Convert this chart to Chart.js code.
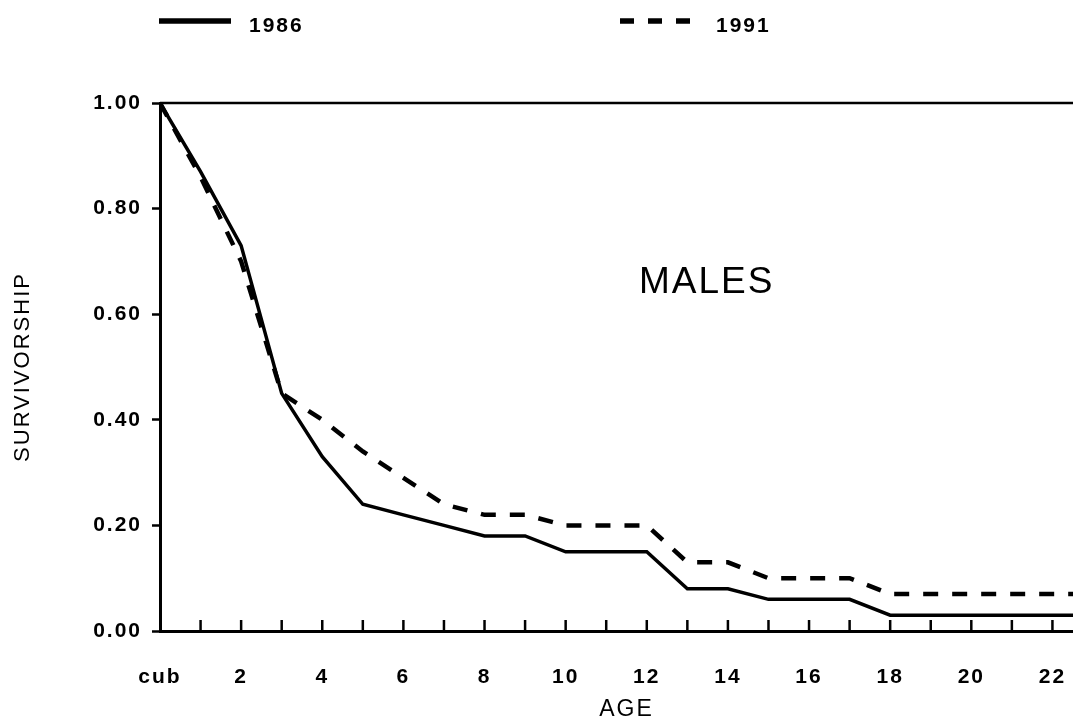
<!DOCTYPE html>
<html>
<head>
<meta charset="utf-8">
<script src="https://cdn.jsdelivr.net/npm/chart.js@4/dist/chart.umd.min.js"></script>
<style>
    html, body { margin: 0; padding: 0; background: #fff; overflow: hidden; }
    #wrap { width: 1073px; height: 725px; overflow: hidden; }
</style>
</head>
<body>
<div id="wrap"><canvas id="chart" width="1110" height="725"></canvas></div>
<script>
// Data
const ages = [0, 1, 2, 3, 4, 5, 6, 7, 8, 9, 10, 11, 12, 13, 14, 15, 16, 17, 18, 19, 20, 21, 22, 23];
const surv1986 = [1.00, 0.87, 0.73, 0.45, 0.33, 0.24, 0.22, 0.20, 0.18, 0.18, 0.15, 0.15, 0.15, 0.08, 0.08, 0.06, 0.06, 0.06, 0.03, 0.03, 0.03, 0.03, 0.03, 0.03];
const surv1991 = [1.00, 0.86, 0.70, 0.45, 0.40, 0.34, 0.29, 0.24, 0.22, 0.22, 0.20, 0.20, 0.20, 0.13, 0.13, 0.10, 0.10, 0.10, 0.07, 0.07, 0.07, 0.07, 0.07, 0.07];
const yTicks = [0, 0.2, 0.4, 0.6, 0.8, 1.0];
const seriesNames = ['1986', '1991'];
const panelLabel = 'MALES';

const FONT = '"Liberation Sans", Arial, Helvetica, sans-serif';

const toPoints = vals => ages.map((a, i) => ({ x: a, y: vals[i] }));

// Letter spacing for the wide, tracked lettering of the original
const spacing = {
    id: 'spacing',
    beforeUpdate(chart) { chart.ctx.letterSpacing = '2px'; },
    beforeDraw(chart) { chart.ctx.letterSpacing = '2px'; },
    beforeDatasetsDraw(chart) { chart.ctx.letterSpacing = '2px'; }
};

// Frame, inward x ticks, legend and panel label
const decor = {
    id: 'decor',
    afterDraw(chart) {
        const { ctx, chartArea, scales } = chart;
        const x = scales.x;
        ctx.save();
        ctx.strokeStyle = '#000';
        ctx.lineCap = 'butt';

        // top border
        ctx.lineWidth = 2.5;
        ctx.beginPath();
        ctx.moveTo(chartArea.left, chartArea.top);
        ctx.lineTo(chartArea.right, chartArea.top);
        ctx.stroke();

        // inward ticks on x axis
        ctx.lineWidth = 2.5;
        ages.forEach(a => {
            if (a === 0) return;
            const px = x.getPixelForValue(a);
            ctx.beginPath();
            ctx.moveTo(px, chartArea.bottom);
            ctx.lineTo(px, chartArea.bottom - 11);
            ctx.stroke();
        });

        // legend
        ctx.fillStyle = '#000';
        ctx.font = 'bold 21px ' + FONT;
        ctx.letterSpacing = '2px';
        ctx.textBaseline = 'middle';
        ctx.lineWidth = 5.5;
        ctx.setLineDash([]);
        ctx.beginPath();
        ctx.moveTo(159, 21);
        ctx.lineTo(231, 21);
        ctx.stroke();
        ctx.fillText(seriesNames[0], 249, 26);

        ctx.setLineDash([14, 14]);
        ctx.beginPath();
        ctx.moveTo(620, 21);
        ctx.lineTo(694, 21);
        ctx.stroke();
        ctx.setLineDash([]);
        ctx.fillText(seriesNames[1], 716, 26);

        // panel label
        ctx.font = '37px ' + FONT;
        ctx.letterSpacing = '2px';
        ctx.fillText(panelLabel, 639, 283);
        ctx.restore();
    }
};

const ctx = document.getElementById('chart').getContext('2d');

new Chart(ctx, {
    type: 'line',
    data: {
        datasets: [
            {
                label: seriesNames[1],
                data: toPoints(surv1991),
                borderColor: '#000',
                borderWidth: 4.5,
                borderDash: [15, 14],
                pointRadius: 0,
                tension: 0,
                fill: false
            },
            {
                label: seriesNames[0],
                data: toPoints(surv1986),
                borderColor: '#000',
                borderWidth: 3.5,
                pointRadius: 0,
                tension: 0,
                fill: false
            }
        ]
    },
    options: {
        responsive: false,
        animation: false,
        devicePixelRatio: 1,
        layout: { padding: { top: 103, right: 17, bottom: 0, left: 0 } },
        plugins: {
            legend: { display: false },
            tooltip: { enabled: false }
        },
        scales: {
            x: {
                type: 'linear',
                min: 0,
                max: 23,
                afterFit: s => { s.height = 94; s.paddingLeft = 0; s.paddingRight = 0; },
                border: { display: true, color: '#000', width: 3 },
                grid: { display: false },
                ticks: {
                    stepSize: 1,
                    autoSkip: false,
                    maxRotation: 0,
                    padding: 26,
                    color: '#000',
                    font: { family: FONT, size: 21, weight: 'bold' },
                    callback: v => v === 0 ? 'cub' : (v % 2 === 0 ? String(v) : '')
                },
                title: {
                    display: true,
                    text: 'AGE',
                    color: '#000',
                    padding: { top: 0, bottom: 2 },
                    font: { family: FONT, size: 23 }
                }
            },
            y: {
                min: 0,
                max: 1,
                afterFit: s => { s.width = 160; s.paddingTop = 0; s.paddingBottom = 0; },
                afterBuildTicks: s => { s.ticks = yTicks.map(v => ({ value: v })); },
                border: { display: true, color: '#000', width: 3 },
                grid: {
                    display: true,
                    drawOnChartArea: false,
                    drawTicks: true,
                    tickLength: 8,
                    tickWidth: 2.5,
                    tickColor: '#000'
                },
                ticks: {
                    padding: 10,
                    color: '#000',
                    font: { family: FONT, size: 21, weight: 'bold' },
                    callback: v => Number(v).toFixed(2)
                },
                title: {
                    display: true,
                    text: 'SURVIVORSHIP',
                    color: '#000',
                    padding: { top: 10, bottom: 0 },
                    font: { family: FONT, size: 22 }
                }
            }
        }
    },
    plugins: [spacing, decor]
});
</script>
</body>
</html>
